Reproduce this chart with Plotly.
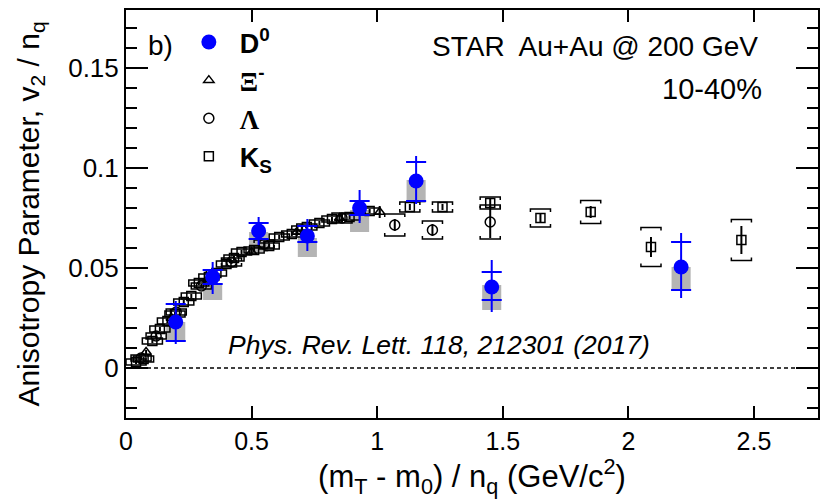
import plotly.graph_objects as go

# ---------------- data ----------------
# D0 (STAR Au+Au 200 GeV, 10-40%)
d0_x = [0.198, 0.345, 0.528, 0.722, 0.93, 1.155, 1.456, 2.21]
d0_y = [0.023, 0.0455, 0.0685, 0.066, 0.080, 0.0935, 0.0405, 0.0505]
d0_stat_up = [0.0105, 0.0075, 0.007, 0.0085, 0.009, 0.0125, 0.0135, 0.017]
d0_stat_dn = [0.011, 0.0085, 0.007, 0.0075, 0.0075, 0.0115, 0.0125, 0.0155]
d0_cap_up = [0.009, 0.0035, 0.004, 0.005, 0.0035, 0.0095, 0.0075, 0.0125]
d0_cap_dn = [0.0095, 0.0035, 0.004, 0.003, 0.0035, 0.010, 0.0065, 0.0115]
d0_sys_lo = [0.013, 0.034, 0.058, 0.0555, 0.068, 0.0825, 0.029, 0.0385]
d0_sys_hi = [0.023, 0.0425, 0.068, 0.065, 0.079, 0.094, 0.0415, 0.0505]

# K0S
ks_x = [0.04, 0.07, 0.105, 0.135, 0.165, 0.195, 0.23, 0.26, 0.29, 0.33, 0.36, 0.40,
        0.43, 0.46, 0.51, 0.57, 0.61, 0.66, 0.72, 0.77, 0.82, 0.89, 0.97, 1.13, 1.26,
        1.45, 1.65, 1.85, 2.09, 2.45]
ks_y = [0.003, 0.0045, 0.0135, 0.0195, 0.0235, 0.027, 0.033, 0.036, 0.0425, 0.0455,
        0.0475, 0.052, 0.055, 0.058, 0.059, 0.061, 0.0655, 0.067, 0.0705, 0.0725,
        0.0745, 0.0755, 0.0785, 0.0805, 0.0805, 0.0825, 0.075, 0.078, 0.0605, 0.064]
ks_stat = [0.001] * 23 + [0.0015, 0.0015, 0.002, 0.0025, 0.003, 0.005, 0.007]
ks_sys = [0.0015] * 23 + [0.0025, 0.0025, 0.003, 0.0045, 0.0058, 0.0098, 0.0103]

# Lambda
la_x = [0.06, 0.12, 0.2, 0.3, 0.42, 0.55, 0.7, 0.86, 1.07, 1.22, 1.45]
la_y = [0.005, 0.016, 0.028, 0.041, 0.053, 0.062, 0.069, 0.075, 0.0715, 0.069, 0.073]
la_stat = [0.001, 0.001, 0.001, 0.001, 0.001, 0.0015, 0.0015, 0.002, 0.003, 0.003, 0.008]
la_sys = [0.0015, 0.0015, 0.0015, 0.0015, 0.002, 0.002, 0.002, 0.0025, 0.0055, 0.0045, 0.0085]

# Xi-
xi_x = [0.08, 0.18, 0.33, 0.5, 0.68, 0.85, 1.01]
xi_y = [0.008, 0.025, 0.045, 0.058, 0.068, 0.075, 0.078]
xi_stat = [0.001, 0.001, 0.0015, 0.0015, 0.002, 0.002, 0.003]

x_ticks = [0, 0.5, 1, 1.5, 2, 2.5]
x_ticktext = ["0", "0.5", "1", "1.5", "2", "2.5"]
y_ticks = [0, 0.05, 0.1, 0.15]
y_ticktext = ["0", "0.05", "0.1", "0.15"]

# ---------------- styling constants ----------------
FONT = "Liberation Sans"
SERIF = "Liberation Serif"
BLUE = "#0000ff"
GREY = "#b4b4b4"
BR_W = 0.04      # bracket half-width (x units)
BR_H = 0.0015    # bracket hook height (y units)
CAP_W = 0.04

fig = go.Figure()

# D0 systematic boxes
fig.add_trace(go.Bar(
    x=d0_x, base=d0_sys_lo, y=[h - l for h, l in zip(d0_sys_hi, d0_sys_lo)],
    width=[0.076] * len(d0_x), marker=dict(color=GREY, line=dict(width=0)),
    showlegend=False, hoverinfo="skip"))


def brackets(xs, ys, sys):
    bx, by = [], []
    for x, y, s in zip(xs, ys, sys):
        hi, lo = y + s, y - s
        bx += [x - BR_W, x - BR_W, x + BR_W, x + BR_W, None]
        by += [hi - BR_H, hi, hi, hi - BR_H, None]
        bx += [x - BR_W, x - BR_W, x + BR_W, x + BR_W, None]
        by += [lo + BR_H, lo, lo, lo + BR_H, None]
    return bx, by


for xs, ys, ss in [(ks_x, ks_y, ks_sys), (la_x, la_y, la_sys)]:
    bx, by = brackets(xs, ys, ss)
    fig.add_trace(go.Scatter(x=bx, y=by, mode="lines", line=dict(color="black", width=1.5),
                             showlegend=False, hoverinfo="skip"))

# Ks
fig.add_trace(go.Scatter(
    x=ks_x, y=ks_y, mode="markers", name="<b>K<sub>S</sub></b>",
    marker=dict(symbol="square-open", size=9, color="black", line=dict(width=1.5)),
    error_y=dict(type="data", array=ks_stat, color="black", thickness=2, width=0),
    legendgroup="ks", legendrank=4))
# Lambda
fig.add_trace(go.Scatter(
    x=la_x, y=la_y, mode="markers",
    name=f'<span style="font-family:{SERIF}"><b>Λ</b></span>',
    marker=dict(symbol="circle-open", size=10, color="black", line=dict(width=1.5)),
    error_y=dict(type="data", array=la_stat, color="black", thickness=2, width=0),
    legendgroup="la", legendrank=3))
# Xi
fig.add_trace(go.Scatter(
    x=xi_x, y=xi_y, mode="markers",
    name=f'<span style="font-family:{SERIF}"><b>Ξ</b></span><sup><b>-</b></sup>',
    marker=dict(symbol="triangle-up-open", size=9, color="black", line=dict(width=1.5)),
    error_y=dict(type="data", array=xi_stat, color="black", thickness=2, width=0),
    legendgroup="xi", legendrank=2))

# D0 caps (horizontal blue ticks)
cx, cy = [], []
for x, y, u, d in zip(d0_x, d0_y, d0_cap_up, d0_cap_dn):
    cx += [x - CAP_W, x + CAP_W, None, x - CAP_W, x + CAP_W, None]
    cy += [y + u, y + u, None, y - d, y - d, None]
fig.add_trace(go.Scatter(x=cx, y=cy, mode="lines", line=dict(color=BLUE, width=2),
                         showlegend=False, hoverinfo="skip"))
# D0 points
fig.add_trace(go.Scatter(
    x=d0_x, y=d0_y, mode="markers", name="<b>D<sup>0</sup></b>",
    marker=dict(symbol="circle", size=15, color=BLUE),
    error_y=dict(type="data", symmetric=False, array=d0_stat_up, arrayminus=d0_stat_dn,
                 color=BLUE, thickness=2, width=0),
    legendgroup="d0", legendrank=1))

# zero line
fig.add_shape(type="line", xref="paper", x0=0, x1=1, yref="y", y0=0, y1=0,
              line=dict(color="black", width=1.5, dash="4px,3px"))

L, R, T, B = 126, 4, 10, 81
PW, PH = 824 - L - R, 499 - T - B


def px(xp):
    return (xp - L) / PW


def py(yp):
    return 1 - (yp - T) / PH


ann = [
    dict(text="b)", x=px(146), y=py(45), xanchor="left", yanchor="middle", font=dict(size=28)),
    dict(text="STAR  Au+Au @ 200 GeV", x=px(762), y=py(46), xanchor="right", yanchor="middle",
         font=dict(size=28)),
    dict(text="10-40%", x=px(766), y=py(89), xanchor="right", yanchor="middle", font=dict(size=29)),
    dict(text="<i>Phys. Rev. Lett. 118, 212301 (2017)</i>", x=px(226), y=py(345),
         xanchor="left", yanchor="middle", font=dict(size=26.5)),
]
for a in ann:
    a.update(xref="paper", yref="paper", showarrow=False)
    a["font"].update(family=FONT, color="black")

fig.update_layout(
    width=824, height=499, autosize=False,
    margin=dict(l=L, r=R, t=T, b=B),
    paper_bgcolor="white", plot_bgcolor="white",
    font=dict(family=FONT, color="black", size=24),
    barmode="overlay", showlegend=True,
    legend=dict(x=px(178), y=py(18), xanchor="left", yanchor="top",
                bgcolor="rgba(0,0,0,0)", font=dict(size=27, family=FONT),
                tracegroupgap=5, itemwidth=52, traceorder="normal"),
    annotations=ann,
    xaxis=dict(range=[0, 2.755], tickvals=x_ticks, ticktext=x_ticktext,
               ticks="inside", ticklen=12, tickwidth=1.5, tickcolor="black",
               showline=True, linewidth=2, linecolor="black", mirror="ticks",
               showgrid=False, zeroline=False, tickfont=dict(size=25),
               title=dict(text="(m<sub>T</sub> - m<sub>0</sub>) / n<sub>q</sub> (GeV/c<sup>2</sup>)",
                          font=dict(size=31), standoff=3)),
    yaxis=dict(range=[-0.025, 0.179], tickvals=y_ticks, ticktext=y_ticktext,
               ticks="inside", ticklen=22, tickwidth=1.5, tickcolor="black",
               minor=dict(dtick=0.01, tick0=0, ticks="inside", ticklen=11,
                          tickcolor="black", tickwidth=1.5),
               showline=True, linewidth=2, linecolor="black", mirror="ticks",
               showgrid=False, zeroline=False, tickfont=dict(size=26),
               title=dict(text="Anisotropy Parameter, v<sub>2</sub> / n<sub>q</sub>",
                          font=dict(size=30), standoff=20)),
)

fig.write_html("out.html")
